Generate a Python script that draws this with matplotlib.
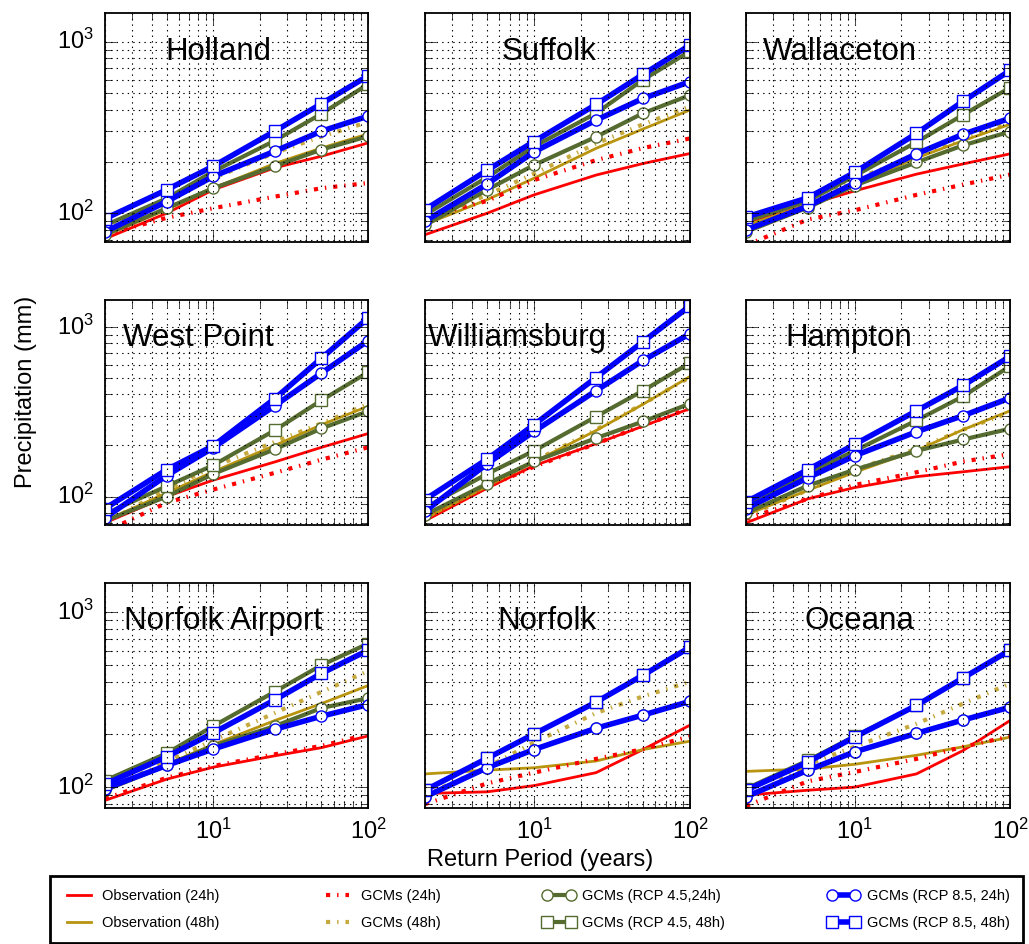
import numpy as np
import matplotlib
matplotlib.use('Agg')
import matplotlib.pyplot as plt

plt.style.use('classic')
plt.rcParams['font.family'] = ['Liberation Sans', 'DejaVu Sans']
plt.rcParams['mathtext.fontset'] = 'cm'
plt.rcParams['figure.facecolor'] = 'white'
plt.rcParams['savefig.facecolor'] = 'white'
plt.rcParams['axes.linewidth'] = 1.3

return_periods = [2, 5, 10, 25, 50, 100]
stations = ['Holland', 'Suffolk', 'Wallaceton',
            'West Point', 'Williamsburg', 'Hampton',
            'Norfolk Airport', 'Norfolk', 'Oceana']

# precipitation depth (mm) for each station, one row per station
obs_24 = [[71, 100, 137, 184, 215, 257],
          [75, 100, 128, 167, 195, 223],
          [87, 112, 135, 169, 194, 222],
          [70, 100, 125, 160, 195, 235],
          [72, 112, 152, 205, 260, 330],
          [70, 97, 113, 131, 140, 150],
          [84, 111, 130, 151, 168, 196],
          [92, 94, 102, 121, 164, 226],
          [90, 96, 100, 119, 162, 240]]
obs_48 = [[74, 105, 140, 195, 240, 290],
          [86, 120, 160, 239, 310, 400],
          [85, 112, 148, 210, 265, 330],
          [72, 105, 140, 200, 265, 340],
          [74, 115, 160, 245, 350, 510],
          [78, 109, 139, 187, 248, 320],
          [95, 135, 175, 240, 300, 380],
          [119, 125, 129, 141, 164, 183],
          [123, 127, 135, 152, 170, 193]]
gcm_24 = [[75, 94, 107, 125, 140, 150],
          [95, 118, 156, 204, 240, 273],
          [65, 92, 104, 128, 147, 168],
          [62, 92, 110, 138, 165, 195],
          [74, 114, 150, 205, 262, 332],
          [74, 97, 117, 139, 161, 178],
          [86, 113, 132, 154, 172, 200],
          [80, 105, 121, 145, 165, 195],
          [78, 108, 122, 145, 170, 195]]
gcm_48 = [[80, 120, 160, 225, 280, 340],
          [90, 128, 170, 255, 330, 420],
          [80, 120, 158, 215, 270, 340],
          [70, 110, 150, 210, 270, 350],
          [75, 116, 162, 248, 352, 505],
          [77, 109, 144, 191, 248, 313],
          [95, 140, 185, 265, 350, 460],
          [90, 130, 180, 265, 330, 400],
          [85, 135, 170, 230, 300, 390]]
rcp45_24 = [[75, 107, 140, 188, 235, 281],
            [85, 137, 191, 279, 383, 488],
            [78, 108, 145, 198, 249, 299],
            [72, 100, 136, 190, 252, 318],
            [78, 119, 161, 221, 277, 353],
            [80, 116, 144, 186, 217, 251],
            [96, 133, 172, 223, 283, 322],
            [88, 129, 164, 217, 258, 309],
            [88, 125, 159, 203, 242, 286]]
rcp45_48 = [[85, 122, 175, 265, 380, 565],
            [98, 162, 245, 383, 600, 880],
            [90, 118, 165, 260, 375, 540],
            [79, 115, 153, 246, 369, 540],
            [86, 136, 186, 296, 421, 613],
            [87, 137, 186, 281, 390, 587],
            [109, 156, 223, 351, 497, 660],
            [96, 146, 201, 306, 436, 630],
            [98, 142, 195, 293, 421, 605]]
rcp85_24 = [[78, 117, 164, 230, 301, 368],
            [90, 148, 228, 349, 467, 585],
            [80, 110, 150, 222, 289, 358],
            [75, 133, 194, 343, 534, 828],
            [82, 156, 242, 421, 634, 912],
            [85, 129, 174, 241, 300, 381],
            [98, 133, 165, 214, 254, 296],
            [88, 129, 164, 217, 258, 309],
            [88, 125, 159, 203, 242, 286]]
rcp85_48 = [[93, 137, 188, 301, 435, 632],
            [105, 178, 262, 431, 645, 955],
            [95, 123, 173, 292, 450, 680],
            [85, 144, 199, 378, 653, 1127],
            [96, 166, 265, 503, 818, 1330],
            [93, 144, 203, 320, 452, 670],
            [104, 149, 204, 315, 446, 605],
            [96, 146, 201, 306, 436, 630],
            [96, 139, 193, 293, 421, 605]]

row_ylims = [(68, 1470), (68, 1440), (76, 1465)]
name_x = [0.43, 0.47, 0.355, 0.354, 0.35, 0.39, 0.45, 0.46, 0.43]

red = '#ff0000'
gold = '#b8940f'
green = '#556b2f'
blue = '#0000ff'

fig = plt.figure(figsize=(10.29, 9.44), dpi=100)
lefts = [105, 425, 746]
widths = [263, 265, 264]
tops = [13, 300, 583]
heights = [229, 225, 225]
W, H = 1029.0, 944.0

axes = []
for i, name in enumerate(stations):
    r, c = divmod(i, 3)
    ax = fig.add_axes([lefts[c] / W, 1 - (tops[r] + heights[r]) / H,
                       widths[c] / W, heights[r] / H])
    axes.append(ax)
    T = return_periods
    ax.loglog(T, obs_24[i], '-', color=red, lw=2, label='Observation (24h)')
    ax.loglog(T, obs_48[i], '-', color=gold, lw=2, label='Observation (48h)')
    ax.loglog(T, gcm_24[i], '-.', color=red, lw=3, label='GCMs (24h)')
    ax.loglog(T, gcm_48[i], '-.', color=gold, lw=3, alpha=0.8, label='GCMs (48h)')
    ax.loglog(T, rcp45_24[i], '-', color=green, lw=3, marker='o', ms=8,
              mfc='white', mec=green, mew=1, label='GCMs (RCP 4.5,24h)')
    ax.loglog(T, rcp45_48[i], '-', color=green, lw=3, marker='s', ms=8,
              mfc='white', mec=green, mew=1, label='GCMs (RCP 4.5, 48h)')
    ax.loglog(T, rcp85_24[i], '-', color=blue, lw=4, marker='o', ms=8,
              mfc='white', mec=blue, mew=1, label='GCMs (RCP 8.5, 24h)')
    ax.loglog(T, rcp85_48[i], '-', color=blue, lw=4, marker='s', ms=8,
              mfc='white', mec=blue, mew=1, label='GCMs (RCP 8.5, 48h)')

    ax.set_xlim(2, 100)
    ax.set_ylim(*row_ylims[r])
    ax.grid(True, which='both', color='k', ls=':', lw=0.8)
    ax.tick_params(which='major', length=8, direction='in', labelsize=17, pad=8)
    ax.tick_params(which='minor', length=5, direction='in')
    if c != 0:
        ax.tick_params(labelleft=False)
    if r != 2:
        ax.tick_params(labelbottom=False)
    ax.text(name_x[i], 0.83, name, transform=ax.transAxes, fontsize=22.5,
            ha='center', va='center')

fig.text(0.025, 0.585, 'Precipitation (mm)', rotation=90, fontsize=17,
         ha='center', va='center')
fig.text(0.525, 0.089, 'Return Period (years)', fontsize=17,
         ha='center', va='center')

handles, labels = axes[0].get_legend_handles_labels()
leg = fig.legend(handles, labels, loc='center', ncol=4, fontsize=10.5,
                 bbox_to_anchor=(0.521, 0.0365), numpoints=2,
                 handlelength=2.2, handletextpad=0.5, columnspacing=7.0,
                 fancybox=False, borderpad=0.9, labelspacing=0.85)
leg.get_frame().set_linewidth(2)
leg.get_frame().set_edgecolor('black')

fig.savefig('out.png', dpi=100)
